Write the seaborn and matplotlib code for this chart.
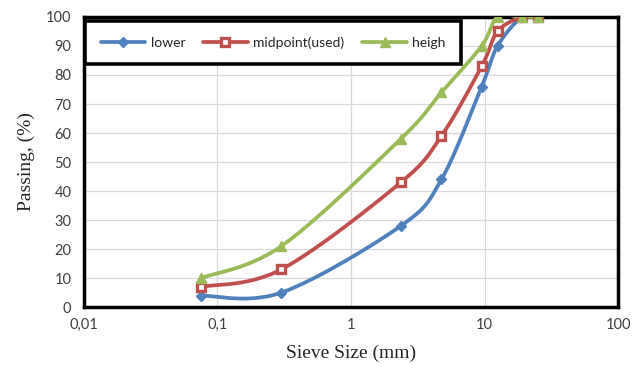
import numpy as np
import pandas as pd
import matplotlib
matplotlib.use("Agg")
import matplotlib.pyplot as plt
import seaborn as sns
from matplotlib.lines import Line2D
from matplotlib.ticker import FixedLocator, FixedFormatter, NullLocator

# sieve sizes (mm) and passing (%)
sieve = [0.075, 0.3, 2.36, 4.75, 9.5, 12.5, 19, 25]
lower = [4, 5, 28, 44, 76, 90, 100, 100]
midpoint = [7, 13, 43, 59, 83, 95, 100, 100]
heigh = [10, 21, 58, 74, 90, 100, 100, 100]

series_names = ["lower", "midpoint(used)", "heigh"]
colors = ["#4F81BD", "#C0504D", "#9BBB59"]
markers = ["D", "s", "^"]
x_ticks = [0.01, 0.1, 1, 10, 100]
x_tick_labels = ["0,01", "0,1", "1", "10", "100"]


def smooth(xs, ys, n=30):
    # Excel-like smoothed line: cubic Bezier through points in (log x, y) space
    px = np.log10(np.asarray(xs, float)) * 29.0
    py = np.asarray(ys, float)
    pts = np.column_stack([px, py])
    out = [pts[0]]
    t = np.linspace(0, 1, n)[1:, None]
    for i in range(len(pts) - 1):
        p0 = pts[i - 1] if i > 0 else pts[i]
        p3 = pts[i + 2] if i + 2 < len(pts) else pts[i + 1]
        c1 = pts[i] + (pts[i + 1] - p0) / 6.0
        c2 = pts[i + 1] - (p3 - pts[i]) / 6.0
        seg = ((1 - t) ** 3) * pts[i] + 3 * ((1 - t) ** 2) * t * c1 \
            + 3 * (1 - t) * t ** 2 * c2 + t ** 3 * pts[i + 1]
        out.extend(seg)
    out = np.array(out)
    return 10 ** (out[:, 0] / 29.0), out[:, 1]


sns.set_style("white")
plt.rcParams["font.family"] = ["Lato", "DejaVu Sans"]

fig = plt.figure(figsize=(6.4, 3.76), dpi=100)
ax = fig.add_axes([0.131, 0.183, 0.835, 0.772])

df = pd.DataFrame({
    "sieve": sieve * 3,
    "passing": lower + midpoint + heigh,
    "series": [s for s in series_names for _ in sieve],
})

style = {
    "D": dict(markersize=5.5, markeredgewidth=1),
    "s": dict(markersize=6, markeredgewidth=2.4),
    "^": dict(markersize=7, markeredgewidth=1),
}

handles = []
for name, vals, c, m in zip(series_names, [lower, midpoint, heigh], colors, markers):
    sx, sy = smooth(sieve, vals)
    ax.plot(sx, sy, color=c, lw=2.7, zorder=3, solid_capstyle="round")
    sub = df[df["series"] == name]
    face = "white" if m == "s" else c
    sns.lineplot(data=sub, x="sieve", y="passing", ax=ax, color=c, lw=0,
                 marker=m, markerfacecolor=face, markeredgecolor=c,
                 zorder=4, legend=False, **style[m])
    handles.append(Line2D([], [], color=c, lw=2.7, marker=m,
                          markerfacecolor=face, markeredgecolor=c, **style[m]))

ax.set_xscale("log")
ax.set_xlim(0.01, 100)
ax.set_ylim(0, 100)
ax.xaxis.set_major_locator(FixedLocator(x_ticks))
ax.xaxis.set_major_formatter(FixedFormatter(x_tick_labels))
ax.xaxis.set_minor_locator(NullLocator())
ax.set_yticks(range(0, 101, 10))
ax.grid(True, color="#d9d9d9", lw=0.9)
ax.set_axisbelow(True)
ax.tick_params(axis="both", labelsize=10.5, length=0, pad=8, colors="#404040")
ax.tick_params(axis="y", pad=9)
for sp in ax.spines.values():
    sp.set_visible(True)
    sp.set_color("black")
    sp.set_linewidth(2.5)

ax.set_xlabel("Sieve Size (mm)", family="Liberation Serif", fontsize=14, labelpad=9)
ax.set_ylabel("Passing, (%)", family="Liberation Serif", fontsize=14, labelpad=8)

leg = ax.legend(handles, series_names, loc="upper left", ncol=3,
                bbox_to_anchor=(0.0, 0.99), fontsize=10, frameon=True,
                fancybox=False, borderpad=1.1, columnspacing=1.3,
                handlelength=3.2, handletextpad=0.4, borderaxespad=0.1)
leg.get_frame().set_edgecolor("black")
leg.get_frame().set_linewidth(2.6)
leg.get_frame().set_facecolor("white")
leg.get_frame().set_alpha(1)
leg.set_zorder(10)

fig.savefig("out.png", dpi=100)
